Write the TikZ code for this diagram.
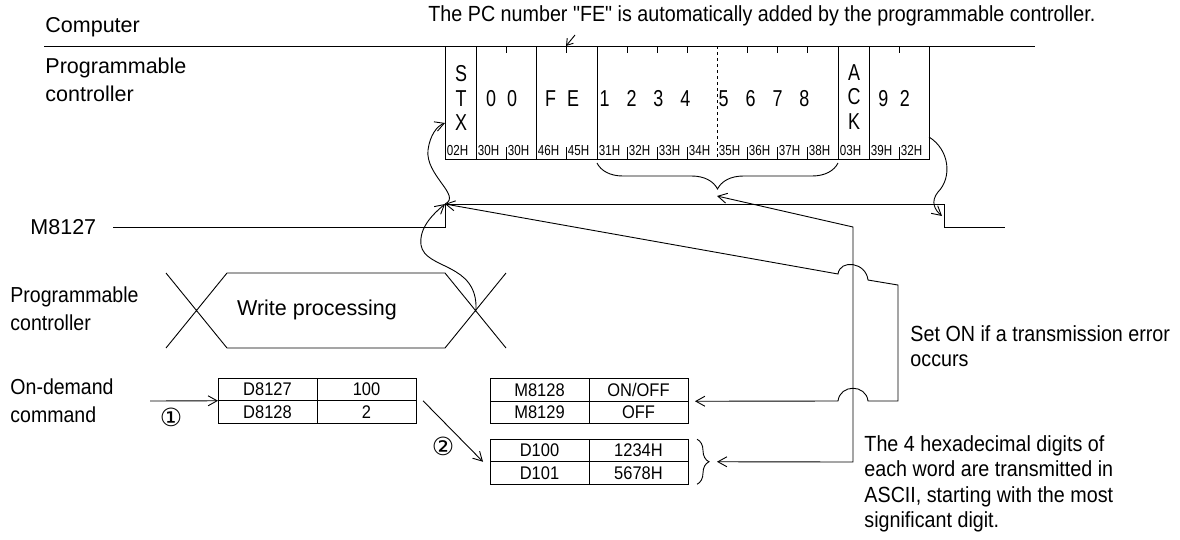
\documentclass[tikz,border=0pt]{standalone}
\usepackage{fontspec}
\setmainfont{Liberation Sans}[Ligatures=TeXOff]
\newfontfamily\narrowfont{Liberation Sans}[FakeStretch=0.9, Ligatures=TeXOff]
\newfontfamily\framefont{Liberation Sans}[FakeStretch=0.78]
\newfontfamily\hexfont{Liberation Sans}[FakeStretch=0.8]
\newfontfamily\circfont{DejaVu Sans}
\usetikzlibrary{arrows.meta,positioning,decorations.pathreplacing}

\begin{document}
\begin{tikzpicture}[x=1pt, y=-1pt, line width=0.9pt,
  lbl/.style={anchor=west, align=left, inner sep=0pt, font=\fontsize{21.5}{28}\selectfont},
  sublbl/.style={anchor=west, align=left, inner sep=0pt, font=\narrowfont\fontsize{21.7}{28}\selectfont},
  note/.style={anchor=west, align=left, inner sep=0pt, font=\narrowfont\fontsize{21.9}{24.5}\selectfont},
  chr/.style={inner sep=0pt, align=center, font=\framefont\fontsize{23}{24.5}\selectfont},
  hex/.style={anchor=west, inner sep=0pt, font=\hexfont\fontsize{14.5}{14.5}\selectfont},
  circ/.style={inner sep=0pt, font=\circfont\fontsize{25}{25}\selectfont},
  cell/.style={draw, outer sep=0pt, inner sep=0pt, minimum width=99pt, minimum height=22.5pt, font=\narrowfont\fontsize{18.3}{18.3}\selectfont},
  arr/.style={-{Straight Barb[length=9pt,width=10pt]}},
  biarr/.style={{Straight Barb[length=9pt,width=10pt]}-{Straight Barb[length=9pt,width=10pt]}}]
\useasboundingbox (0,0) rectangle (1180,539);
% computer / programmable controller
\node[lbl] (comp) at (45,27) {Computer};
\node[lbl] (plc) at (45,80) {Programmable\\controller};
\draw (44,46) -- (1035,46);
\node[note] (pcnote) at (428,16) {The PC number "FE" is automatically added by the programmable controller.};
\coordinate (fenote) at (575,35);
\coordinate (fetick) at (566,46);
\draw[-{Straight Barb[length=6pt,width=8pt]}] (fenote) -- (fetick);
% frame
\draw (445,46) -- (445,159) -- (929,159) -- (929,46);
\foreach \x in {476,536,597,838,869} \draw (\x,46) -- (\x,159);
\draw[dashed, line width=0.7pt] (717,46) -- (717,159);
\foreach \x in {506,566,627,657,687,747,777,807,899} {\draw (\x,46) -- (\x,53); \draw (\x,147) -- (\x,159);}
\foreach \x/\t in {445/02H,476/30H,506/30H,536/46H,566/45H,597/31H,627/32H,657/33H,687/34H,717/35H,747/36H,777/37H,807/38H,838/03H,869/39H,899/32H}
  \node[hex] at (\x+1.5,151) {\t};
\node[chr] (stx) at (461,98) {S\\T\\X};
\node[chr] (pcno) at (501.5,99) {0\hspace{11pt}0};
\node[chr] (fe) at (562,99) {F\hspace{11pt}E};
\node[chr] (dataA) at (645,99) {1\hspace{17pt}2\hspace{17pt}3\hspace{17pt}4};
\node[chr] (dataB) at (764,99) {5\hspace{17pt}6\hspace{17pt}7\hspace{17pt}8};
\node[chr] (ack) at (854,97) {A\\C\\K};
\node[chr] (sum) at (894,99) {9\hspace{11.5pt}2};
\draw[decorate, decoration={brace, amplitude=26pt}] (838,163) -- (597,163);
\coordinate (stxin) at (445,123);
\coordinate (frameend) at (929,137);
\coordinate (databrace) at (717,196);
% M8127
\node[lbl] (m8127) at (30,227) {M8127};
\coordinate (rise) at (445,204);
\coordinate (fall) at (944,204);
\coordinate (fallin) at (942,216);
\draw (113,227) -| (rise) -- (fall) |- (1005,227);
% write processing
\node[sublbl] (plc2) at (10,309) {Programmable\\controller};
\node[lbl, anchor=center] (wp) at (317,310) {Write processing};
\coordinate (wpend) at (476,310);
\draw (166,273) -- (227,348) (166,348) -- (227,273) (445,273) -- (506,348) (445,348) -- (506,273)
  (227,273) -- (445,273) (227,348) -- (445,348);
% tables
\node[sublbl] (ondemand) at (10,401) {On-demand\\command};
\node[cell] (d8127) at (267.5,389.5) {D8127};
\node[cell, right=0pt of d8127] (d8127v) {100};
\node[cell, below=0pt of d8127] (d8128) {D8128};
\node[cell, right=0pt of d8128] (d8128v) {2};
\node[cell] (m8128) at (539.5,390) {M8128};
\node[cell, right=0pt of m8128] (m8128v) {ON/OFF};
\node[cell, below=0pt of m8128] (m8129) {M8129};
\node[cell, right=0pt of m8129] (m8129v) {OFF};
\node[cell] (d100) at (539.5,450.5) {D100};
\node[cell, right=0pt of d100] (d100v) {1234H};
\node[cell, below=0pt of d100] (d101) {D101};
\node[cell, right=0pt of d101] (d101v) {5678H};
\draw[decorate, decoration={brace, amplitude=12pt}] ([xshift=9pt]d100v.north east) -- ([xshift=9pt]d101v.south east);
\coordinate (cmd) at (150,401);
\node[circ] (one) at (171,417) {①};
\node[circ] (two) at (443,446) {②};
\draw[arr] (cmd) -- (d8127.south west);
\draw[arr] ([xshift=7pt]d8128v.north east) -- ([xshift=-7pt]d100.south west);
% notes
\node[note] (errnote) at (910,346) {Set ON if a transmission error\\occurs};
\node[note, font=\narrowfont\fontsize{21.9}{25.5}\selectfont] (hexnote) at (864,484) {The 4 hexadecimal digits of\\each word are transmitted in\\ASCII, starting with the most\\significant digit.};
% connectors
\draw[arr] (wpend) .. controls (478,262) and (425,270) .. (421,245) .. controls (419,228) and (432,215) .. (rise);
\draw[arr] (rise) .. controls (462,196) and (425,175) .. (428,150) .. controls (430,135) and (437,126) .. (stxin);
\draw[arr] (frameend) .. controls (950,150) and (952,178) .. (938,192) .. controls (930,202) and (935,210) .. (fallin);
\draw[biarr] (rise) -- (838,274) .. controls (840,259) and (866,262) .. (868,280) -- (898,285) -- (898,401)
  -- (868,401) .. controls (866,384) and (840,384) .. (838,401) -- ([xshift=7pt]m8128v.south east);
\draw[biarr] (databrace) -- (853,227) -- (853,462) -- ([xshift=29pt]d100v.south east);
\end{tikzpicture}
\end{document}
